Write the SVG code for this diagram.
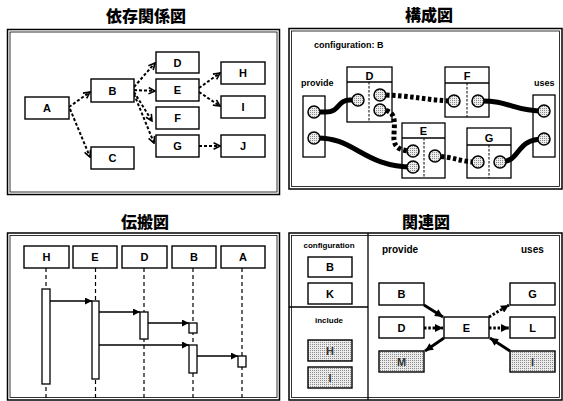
<svg xmlns="http://www.w3.org/2000/svg" width="563" height="401" viewBox="0 0 563 401">
<style>
.title{font-family:"Noto Sans CJK JP","Liberation Sans",sans-serif;font-weight:900;font-size:16px;text-anchor:middle;fill:#000}
.lbl{font-family:"Liberation Sans",Arial,sans-serif;font-weight:bold;font-size:11px;text-anchor:middle;fill:#000}
.lblg{font-family:"Liberation Sans",Arial,sans-serif;font-weight:bold;font-size:11px;text-anchor:middle;fill:#333}
.small{font-family:"Liberation Sans",Arial,sans-serif;font-weight:bold;font-size:9px;fill:#000}
.tiny{font-family:"Liberation Sans",Arial,sans-serif;font-weight:bold;font-size:8px;text-anchor:middle;fill:#000}
.frameO{fill:#fff;stroke:#000;stroke-width:1.5}
.frameI{fill:none;stroke:#000;stroke-width:0.8}
.box{fill:#fff;stroke:#000;stroke-width:1.4}
.boxn{fill:none;stroke:#000;stroke-width:1.3}
.dotbox{fill:url(#stip);stroke:#000;stroke-width:1.4}
.dep{fill:none;stroke:#000;stroke-width:2;stroke-dasharray:3 2;marker-end:url(#openArrow)}
.thick{fill:none;stroke:#000;stroke-width:5}
.thickdot{fill:none;stroke:#000;stroke-width:5;stroke-dasharray:3.5 2.5}
.div{stroke:#000;stroke-width:1;stroke-dasharray:2.5 1.5;fill:none}
.port{fill:url(#stip);stroke:#000;stroke-width:1.5}
.life{stroke:#000;stroke-width:1.2;stroke-dasharray:4 3;fill:none}
.act{fill:#fff;stroke:#000;stroke-width:1.3}
.msg{fill:none;stroke:#000;stroke-width:1.3;marker-end:url(#fillArrow)}
.rel{fill:none;stroke:#000;stroke-width:2.8;marker-end:url(#bigArrow)}
.reld{fill:none;stroke:#000;stroke-width:2.8;stroke-dasharray:2.5 1.8;marker-end:url(#bigArrow)}
</style>
<defs>
<pattern id="stip" width="2" height="2" patternUnits="userSpaceOnUse">
<rect width="2" height="2" fill="#ececec"/>
<rect width="1" height="1" fill="#8a8a8a"/>
</pattern>
<marker id="openArrow" viewBox="0 0 10 10" refX="9" refY="5" markerWidth="8" markerHeight="8" markerUnits="userSpaceOnUse" orient="auto">
<path d="M1,1 L9,5 L1,9" fill="none" stroke="#000" stroke-width="2"/>
</marker>
<marker id="fillArrow" viewBox="0 0 10 10" refX="10" refY="5" markerWidth="8" markerHeight="7" markerUnits="userSpaceOnUse" orient="auto">
<path d="M0,0 L10,5 L0,10 Z" fill="#000"/>
</marker>
<marker id="bigArrow" viewBox="0 0 10 10" refX="10" refY="5" markerWidth="9" markerHeight="8" markerUnits="userSpaceOnUse" orient="auto">
<path d="M0,0 L10,5 L0,10 Z" fill="#000"/>
</marker>
</defs>
<rect width="563" height="401" fill="#fff"/>

<!-- Titles -->
<text class="title" x="146" y="22">依存関係図</text>
<text class="title" x="429" y="21">構成図</text>
<text class="title" x="145" y="228">伝搬図</text>
<text class="title" x="426" y="228">関連図</text>

<!-- Panel frames -->
<g id="frames">
<rect class="frameO" x="7.5" y="29.5" width="272" height="165"/>
<rect class="frameI" x="10" y="32" width="267" height="160"/>
<rect class="frameO" x="289" y="28.5" width="273" height="160.5"/>
<rect class="frameI" x="291.5" y="31" width="268" height="155.5"/>
<rect class="frameO" x="7.5" y="233" width="272" height="167"/>
<rect class="frameI" x="10" y="235.5" width="267" height="162"/>
<rect class="frameO" x="289" y="233" width="273" height="167"/>
<rect class="frameI" x="291.5" y="235.5" width="268" height="162"/>
</g>

<!-- ===== 依存関係図 ===== -->
<g id="dep-connectors">
<path class="dep" d="M69,107 L90,92"/>
<path class="dep" d="M70,109 L90,157"/>
<path class="dep" d="M134,87 L155,63"/>
<path class="dep" d="M134,90 L155,91"/>
<path class="dep" d="M134,92 L152,121"/>
<path class="dep" d="M134,94 L154,143"/>
<path class="dep" d="M199,88 L220,73"/>
<path class="dep" d="M199,92 L220,106"/>
<path class="dep" d="M199,146 L220,146"/>
</g>
<g id="dep-A"><rect class="box" x="25" y="97" width="44" height="22"/><text class="lbl" x="47" y="112">A</text></g>
<g id="dep-B"><rect class="box" x="91" y="79" width="43" height="23"/><text class="lbl" x="112.5" y="94.5">B</text></g>
<g id="dep-C"><rect class="box" x="91" y="147" width="43" height="22"/><text class="lbl" x="112.5" y="162">C</text></g>
<g id="dep-D"><rect class="box" x="156" y="52" width="43" height="21"/><text class="lbl" x="177.5" y="66.5">D</text></g>
<g id="dep-E"><rect class="box" x="156" y="79" width="43" height="22"/><text class="lbl" x="177.5" y="94">E</text></g>
<g id="dep-F"><rect class="box" x="156" y="107" width="43" height="22"/><text class="lbl" x="177.5" y="122">F</text></g>
<g id="dep-G"><rect class="box" x="156" y="135" width="43" height="22"/><text class="lbl" x="177.5" y="150">G</text></g>
<g id="dep-H"><rect class="box" x="221" y="62" width="44" height="22"/><text class="lbl" x="243" y="77">H</text></g>
<g id="dep-I"><rect class="box" x="221" y="96" width="44" height="22"/><text class="lbl" x="243" y="111">I</text></g>
<g id="dep-J"><rect class="box" x="221" y="135" width="44" height="22"/><text class="lbl" x="243" y="150">J</text></g>

<!-- ===== 構成図 ===== -->
<text class="small" x="314" y="48">configuration: B</text>
<text class="small" x="301" y="86">provide</text>
<text class="small" x="534" y="86">uses</text>
<g id="cfg-connectors">
<path class="thick" d="M314,112 L326,112 C340,112 337,100 350,100 L358,100"/>
<path class="thick" d="M314,138 C355,136 362,167 413,167"/>
<path class="thickdot" d="M380,95 C410,95 430,101 454,101"/>
<path class="thickdot" d="M380,110 C400,109 393,128 394,140 C395,149 403,151 413,151"/>
<path class="thickdot" d="M435,156 C455,157 460,162 478,162"/>
<path class="thick" d="M478,101 C510,100 512,111 544,111"/>
<path class="thick" d="M500,162 C522,162 514,139 544,139"/>
</g>
<g id="cfg-provide">
<rect class="boxn" x="303" y="96" width="22" height="61"/>
<circle class="port" cx="314" cy="112" r="6"/>
<circle class="port" cx="314" cy="138" r="6"/>
</g>
<g id="cfg-D">
<rect class="boxn" x="347" y="67" width="45" height="55"/>
<line x1="347" y1="82" x2="392" y2="82" stroke="#000" stroke-width="1.3"/>
<line class="div" x1="369" y1="82" x2="369" y2="122"/>
<text class="lbl" x="369.5" y="79.5">D</text>
<circle class="port" cx="358" cy="100" r="6"/>
<circle class="port" cx="380" cy="95" r="6"/>
<circle class="port" cx="380" cy="110" r="6"/>
</g>
<g id="cfg-E">
<rect class="boxn" x="402" y="123" width="43" height="55"/>
<line x1="402" y1="138" x2="445" y2="138" stroke="#000" stroke-width="1.3"/>
<line class="div" x1="424" y1="138" x2="424" y2="178"/>
<text class="lbl" x="423.5" y="135">E</text>
<circle class="port" cx="413" cy="151" r="6"/>
<circle class="port" cx="413" cy="167" r="6"/>
<circle class="port" cx="435" cy="156" r="6"/>
</g>
<g id="cfg-F">
<rect class="boxn" x="445" y="67" width="44" height="50"/>
<line x1="445" y1="83" x2="489" y2="83" stroke="#000" stroke-width="1.3"/>
<line class="div" x1="467" y1="83" x2="467" y2="117"/>
<text class="lbl" x="467" y="80">F</text>
<circle class="port" cx="454" cy="101" r="6"/>
<circle class="port" cx="478" cy="101" r="6"/>
</g>
<g id="cfg-G">
<rect class="boxn" x="467" y="128" width="44" height="50"/>
<line x1="467" y1="145" x2="511" y2="145" stroke="#000" stroke-width="1.3"/>
<line class="div" x1="489" y1="145" x2="489" y2="178"/>
<text class="lbl" x="489" y="142">G</text>
<circle class="port" cx="478" cy="162" r="6"/>
<circle class="port" cx="500" cy="162" r="6"/>
</g>
<g id="cfg-uses">
<rect class="boxn" x="533" y="95" width="22" height="62"/>
<circle class="port" cx="544" cy="111" r="6"/>
<circle class="port" cx="544" cy="139" r="6"/>
</g>

<!-- ===== 伝搬図 ===== -->
<g id="seq-lifelines">
<line class="life" x1="46" y1="268" x2="46" y2="398"/>
<line class="life" x1="95.5" y1="268" x2="95.5" y2="398"/>
<line class="life" x1="144" y1="268" x2="144" y2="398"/>
<line class="life" x1="193" y1="268" x2="193" y2="398"/>
<line class="life" x1="242" y1="268" x2="242" y2="398"/>
</g>
<g id="seq-H"><rect class="box" x="24" y="246" width="45" height="22"/><text class="lbl" x="46.5" y="261">H</text><rect class="act" x="42" y="289" width="8" height="95"/></g>
<g id="seq-E"><rect class="box" x="73" y="246" width="44" height="22"/><text class="lbl" x="95" y="261">E</text><rect class="act" x="92" y="301" width="7" height="78"/></g>
<g id="seq-D"><rect class="box" x="122" y="246" width="45" height="22"/><text class="lbl" x="144.5" y="261">D</text><rect class="act" x="140" y="312" width="8" height="27"/></g>
<g id="seq-B"><rect class="box" x="172" y="246" width="44" height="22"/><text class="lbl" x="194" y="261">B</text><rect class="act" x="189" y="323" width="8" height="10"/><rect class="act" x="189" y="345" width="8" height="28"/></g>
<g id="seq-A"><rect class="box" x="221" y="246" width="44" height="22"/><text class="lbl" x="243" y="261">A</text><rect class="act" x="238" y="356" width="8" height="11"/></g>
<g id="seq-messages">
<path class="msg" d="M50,301 L92,301"/>
<path class="msg" d="M99,312 L140,312"/>
<path class="msg" d="M148,323 L189,323"/>
<path class="msg" d="M99,345 L189,345"/>
<path class="msg" d="M197,356 L238,356"/>
</g>

<!-- ===== 関連図 ===== -->
<g id="rel-dividers">
<line x1="368" y1="233" x2="368" y2="400" stroke="#000" stroke-width="1.3"/>
<line x1="289" y1="307" x2="368" y2="307" stroke="#000" stroke-width="1.3"/>
</g>
<text class="tiny" x="329" y="248">configuration</text>
<text class="tiny" x="329" y="323">include</text>
<text class="small" x="382" y="253" style="font-size:10px">provide</text>
<text class="small" x="521" y="253" style="font-size:10px">uses</text>
<g id="rel-cfg-B"><rect class="box" x="308" y="257" width="44" height="20"/><text class="lbl" x="330" y="271">B</text></g>
<g id="rel-cfg-K"><rect class="box" x="308" y="283" width="44" height="21"/><text class="lbl" x="330" y="297.5">K</text></g>
<g id="rel-inc-H"><rect class="dotbox" x="308" y="340" width="44" height="21"/><text class="lblg" x="330" y="354.5">H</text></g>
<g id="rel-inc-I"><rect class="dotbox" x="308" y="367" width="44" height="21"/><text class="lblg" x="330" y="381.5">I</text></g>
<g id="rel-connectors">
<path class="rel" d="M424,305 L443,317"/>
<path class="reld" d="M424,328 L443,328"/>
<path class="rel" d="M444,338 L425,351"/>
<path class="reld" d="M489,317 L509,305"/>
<path class="reld" d="M489,328 L509,328"/>
<path class="rel" d="M510,351 L490,338"/>
</g>
<g id="rel-B"><rect class="box" x="379" y="283" width="45" height="22"/><text class="lbl" x="401.5" y="298">B</text></g>
<g id="rel-D"><rect class="box" x="379" y="317" width="45" height="21"/><text class="lbl" x="401.5" y="331.5">D</text></g>
<g id="rel-M"><rect class="dotbox" x="379" y="351" width="45" height="21"/><text class="lblg" x="401.5" y="365.5">M</text></g>
<g id="rel-E"><rect class="box" x="444" y="317" width="45" height="21"/><text class="lbl" x="466.5" y="331.5">E</text></g>
<g id="rel-G"><rect class="box" x="510" y="283" width="45" height="22"/><text class="lbl" x="532.5" y="298">G</text></g>
<g id="rel-L"><rect class="box" x="510" y="317" width="45" height="21"/><text class="lbl" x="532.5" y="331.5">L</text></g>
<g id="rel-I"><rect class="dotbox" x="510" y="351" width="45" height="21"/><text class="lblg" x="532.5" y="365.5">I</text></g>
</svg>
